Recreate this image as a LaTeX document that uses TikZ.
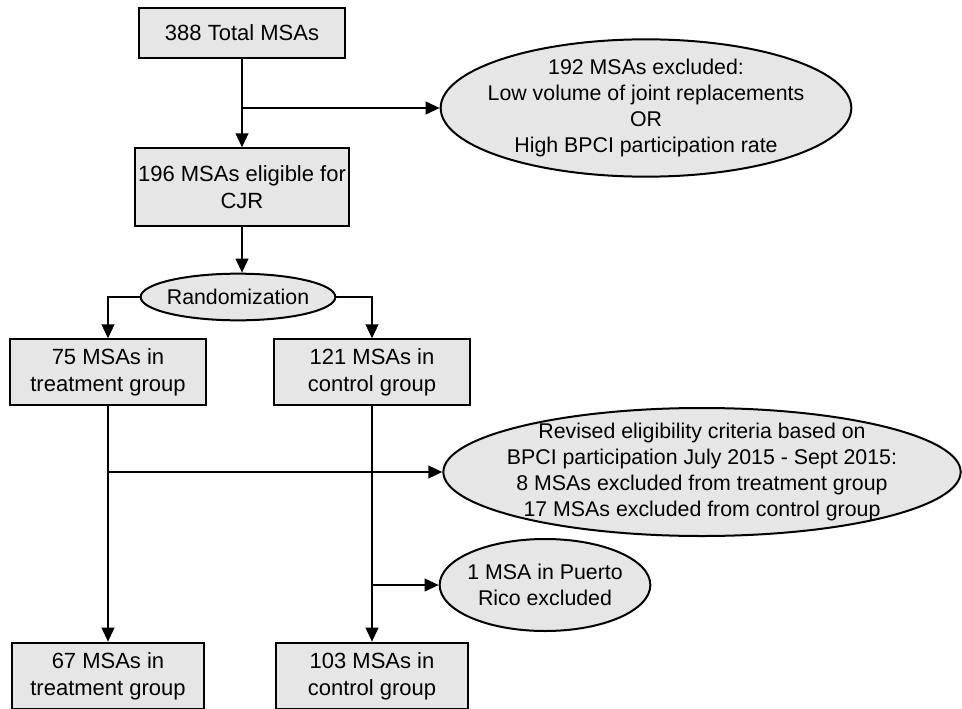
\documentclass[tikz,border=0pt]{standalone}
\usepackage{fontspec}
\setmainfont{Liberation Sans}
\usetikzlibrary{arrows.meta,positioning,calc,shapes.geometric}
\definecolor{boxgray}{HTML}{E6E6E6}
\tikzset{box/.style={draw=black,line width=1.5pt,fill=boxgray,align=center,inner sep=2pt,font=\fontsize{16.5}{20}\selectfont},oval/.style={ellipse,draw=black,line width=1.5pt,fill=boxgray,align=center,inner sep=-40pt,font=\fontsize{16}{19.5}\selectfont},arrow/.style={-{Triangle[length=10.5pt,width=9.5pt]},line width=1.5pt}}
\begin{document}
\begin{tikzpicture}[x=0.75pt,y=-0.75pt]
\useasboundingbox (0,0) rectangle (962,709);
\node[box,minimum width=155pt,minimum height=37pt] (total) at (242,33) {388 Total MSAs};
\node[oval,minimum width=308pt,minimum height=103pt] (excl) at (646,108) {192 MSAs excluded:\\Low volume of joint replacements\\OR\\High BPCI participation rate};
\node[box,minimum width=156pt,minimum height=58pt] (elig) at (242,187) {196 MSAs eligible for\\CJR};
\node[oval,minimum width=146pt,minimum height=35pt] (rand) at (238,297) {Randomization};
\node[box,minimum width=147pt,minimum height=49pt] (treat) at (108,372) {75 MSAs in\\treatment group};
\node[box,minimum width=147pt,minimum height=49pt] (ctrl) at (372,372) {121 MSAs in\\control group};
\node[oval,minimum width=388pt,minimum height=96pt] (rev) at (702,472) {Revised eligibility criteria based on\\BPCI participation July 2015 - Sept 2015:\\8 MSAs excluded from treatment group\\17 MSAs excluded from control group};
\node[oval,minimum width=158pt,minimum height=69pt] (pr) at (545,585) {1 MSA in Puerto\\Rico excluded};
\node[box,minimum width=144pt,minimum height=50pt] (treat2) at (108,676) {67 MSAs in\\treatment group};
\node[box,minimum width=144pt,minimum height=50pt] (ctrl2) at (372,676) {103 MSAs in\\control group};
\draw[arrow](total.south)--(total.south|-elig.north);\draw[arrow](total.south|-excl.west)--(excl.west);
\draw[arrow](elig.south)--(elig.south|-rand.north);
\draw[arrow](rand.west)-|(treat.north);\draw[arrow](rand.east)-|(ctrl.north);
\draw[arrow](treat.south)--(treat2.north);\draw[arrow](treat.south|-rev.west)--(rev.west);
\draw[arrow](ctrl.south)--(ctrl2.north);\draw[arrow](ctrl.south|-pr.west)--(pr.west);
\end{tikzpicture}
\end{document}
